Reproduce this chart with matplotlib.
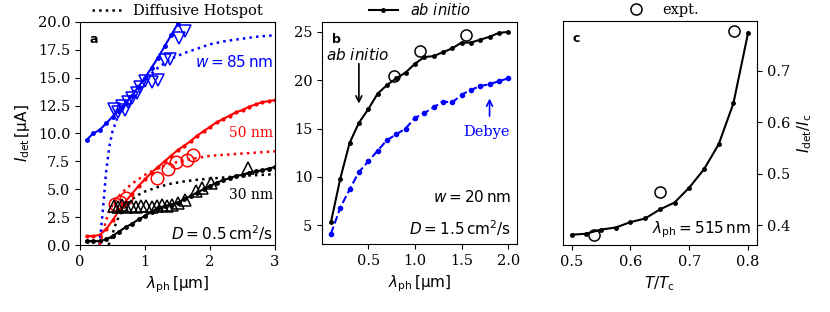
import numpy as np
import matplotlib
matplotlib.use('Agg')
import matplotlib.pyplot as plt

plt.rcParams['font.family'] = 'DejaVu Serif'
plt.rcParams['mathtext.fontset'] = 'dejavusans'
plt.rcParams['font.size'] = 10.5
plt.rcParams['xtick.labelsize'] = 10.5
plt.rcParams['ytick.labelsize'] = 10.5

# ---- panel a: detection current vs wavelength, D = 0.5 cm^2/s ----
lam_a = [0.1, 0.2, 0.3, 0.4, 0.5, 0.6, 0.7, 0.8, 0.9, 1.0, 1.1, 1.2, 1.3, 1.4, 1.5,
         1.6, 1.7, 1.8, 1.9, 2.0, 2.1, 2.2, 2.3, 2.4, 2.5, 2.6, 2.7, 2.8, 2.9, 3.0]
i85 = [9.4, 10.0, 10.3, 10.9, 11.5, 12.1, 12.7, 13.4, 14.2, 15.0, 15.9, 16.8, 17.8, 18.8, 19.8,
       20.8, 21.8, 22.8, 23.8, 24.8, 25.8, 26.8, 27.8, 28.8, 29.8, 30.8, 31.8, 32.8, 33.8, 34.8]
i50 = [0.8, 0.8, 0.9, 1.4, 2.2, 3.1, 3.9, 4.6, 5.3, 5.9, 6.5, 7.0, 7.5, 8.0, 8.5,
       8.9, 9.3, 9.8, 10.2, 10.6, 11.0, 11.3, 11.6, 11.9, 12.1, 12.4, 12.6, 12.8, 12.9, 13.0]
i30 = [0.35, 0.35, 0.35, 0.5, 0.8, 1.2, 1.6, 1.9, 2.3, 2.6, 3.0, 3.3, 3.5, 3.6, 3.8,
       4.1, 4.4, 4.7, 5.0, 5.3, 5.6, 5.8, 6.0, 6.2, 6.3, 6.5, 6.6, 6.7, 6.85, 7.0]

lam_hs85 = [0.3, 0.35, 0.4, 0.45, 0.5, 0.6, 0.7, 0.8, 0.9, 1.0, 1.2, 1.4, 1.6, 1.8, 2.0, 2.25, 2.5, 2.75, 3.0]
hs85 = [0.0, 3.0, 6.5, 8.8, 10.2, 11.8, 12.8, 13.6, 14.3, 14.9, 15.9, 16.7, 17.2, 17.6, 18.0, 18.3, 18.5, 18.7, 18.8]
lam_hs50 = [0.3, 0.35, 0.4, 0.45, 0.5, 0.6, 0.7, 0.8, 0.9, 1.0, 1.2, 1.4, 1.6, 1.8, 2.0, 2.5, 3.0]
hs50 = [0.0, 1.0, 2.2, 3.0, 3.6, 4.4, 5.0, 5.5, 5.9, 6.3, 6.9, 7.3, 7.6, 7.8, 8.0, 8.2, 8.4]
lam_hs30 = [0.44, 0.5, 0.55, 0.6, 0.7, 0.8, 0.9, 1.0, 1.2, 1.4, 1.6, 1.8, 2.0, 2.5, 3.0]
hs30 = [0.0, 1.0, 1.9, 2.6, 3.5, 4.1, 4.5, 4.8, 5.2, 5.5, 5.7, 5.85, 5.95, 6.2, 6.35]

exp85_lam = [0.53, 0.58, 0.64, 0.69, 0.74, 0.8, 0.87, 0.93, 1.0, 1.1, 1.2, 1.31, 1.39, 1.53, 1.62]
exp85_i = [12.2, 11.9, 12.5, 12.1, 12.8, 13.2, 13.6, 14.2, 14.7, 14.6, 14.8, 16.6, 16.7, 18.6, 19.2]
exp50_lam = [0.54, 0.61, 0.70, 1.18, 1.35, 1.47, 1.64, 1.74]
exp50_i = [3.7, 3.9, 4.2, 6.0, 6.8, 7.4, 7.6, 8.1]
exp30_lam = [0.52, 0.58, 0.64, 0.71, 0.78, 0.86, 0.94, 1.02, 1.1, 1.18, 1.26, 1.34, 1.42,
             1.5, 1.62, 1.78, 1.88, 2.02, 2.58]
exp30_i = [3.5, 3.4, 3.6, 3.4, 3.5, 3.4, 3.5, 3.5, 3.4, 3.5, 3.6, 3.5, 3.6,
           3.8, 4.0, 4.8, 5.1, 5.6, 6.9]

# ---- panel b: ab initio vs Debye, w = 20 nm ----
lam_b = [0.1, 0.2, 0.3, 0.4, 0.5, 0.6, 0.7, 0.8, 0.9, 1.0,
         1.1, 1.2, 1.3, 1.4, 1.5, 1.6, 1.7, 1.8, 1.9, 2.0]
abinit = [5.3, 9.8, 13.5, 15.6, 17.0, 18.6, 19.5, 20.2, 20.8, 21.7,
          22.4, 22.5, 22.9, 23.3, 23.9, 23.9, 24.2, 24.5, 24.9, 25.0]
debye = [4.1, 6.8, 8.7, 10.5, 11.6, 12.7, 13.8, 14.4, 15.0, 16.1,
         16.6, 17.2, 17.8, 17.7, 18.5, 19.0, 19.4, 19.6, 19.9, 20.2]
expb_lam = [0.775, 1.055, 1.547]
expb_i = [20.4, 23.0, 24.65]

# ---- panel c: temperature dependence ----
t_c = [0.5, 0.525, 0.55, 0.575, 0.6, 0.625, 0.65, 0.675, 0.7, 0.725, 0.75, 0.775, 0.8]
ratio_c = [0.382, 0.384, 0.392, 0.396, 0.4065, 0.4135, 0.431, 0.4445, 0.4735, 0.509, 0.5575, 0.637, 0.774]
expc_t = [0.538, 0.65, 0.776]
expc_r = [0.382, 0.4645, 0.777]

fig = plt.figure(figsize=(8.3, 3.12), dpi=100)
ax1 = fig.add_axes([0.0964, 0.2147, 0.235, 0.715])
ax2 = fig.add_axes([0.388, 0.218, 0.235, 0.712])
ax3 = fig.add_axes([0.678, 0.215, 0.234, 0.718])

sans = 'DejaVu Sans'

# panel a
ax1.plot(lam_a, i85, '-', color='blue', marker='.', ms=5, lw=1.5)
ax1.plot(lam_a, i50, '-', color='red', marker='.', ms=4, lw=1.5)
ax1.plot(lam_a, i30, '-', color='black', marker='.', ms=5, lw=1.5)
ax1.plot(lam_hs85, hs85, ':', color='blue', lw=1.8)
ax1.plot(lam_hs50, hs50, ':', color='red', lw=1.8)
ax1.plot(lam_hs30, hs30, ':', color='black', lw=1.8, label='Diffusive Hotspot')
ax1.plot(exp85_lam, exp85_i, 'v', mfc='none', mec='blue', ms=9, mew=1.1)
ax1.plot(exp50_lam, exp50_i, 'o', mfc='none', mec='red', ms=9, mew=1.1)
ax1.plot(exp30_lam, exp30_i, '^', mfc='none', mec='black', ms=9, mew=1.1)
ax1.set_xlim(0, 3)
ax1.set_ylim(0, 20)
ax1.set_xticks([0, 1, 2, 3])
ax1.set_yticks(np.arange(0, 20.1, 2.5))
ax1.set_xlabel(r'$\lambda_{\rm ph}\,[\mathrm{\mu m}]$', fontsize=11)
ax1.set_ylabel(r'$I_{\rm det}\,[\mathrm{\mu A}]$', fontsize=11)
ax1.text(2.97, 16.4, r'$w = 85\,\mathrm{nm}$', color='blue', ha='right', va='center', fontsize=11)
ax1.text(2.97, 10.0, '50 nm', color='red', ha='right', va='center', fontsize=10)
ax1.text(2.97, 4.5, '30 nm', color='black', ha='right', va='center', fontsize=10)
ax1.text(2.97, 1.1, r'$D = 0.5\,\mathrm{cm^2/s}$', ha='right', va='center', fontsize=11)
ax1.text(0.05, 0.95, 'a', transform=ax1.transAxes, family=sans, weight='bold', va='top', fontsize=9)
ax1.legend(loc='lower center', bbox_to_anchor=(0.5, 0.99), frameon=False, fontsize=10.5,
           borderaxespad=0, handlelength=2.0)

# panel b
ax2.plot(lam_b, abinit, '-', color='black', marker='.', ms=5, lw=1.5, label=r'$ab\ initio$')
ax2.plot(lam_b, debye, '--', color='blue', marker='.', ms=6, lw=1.5)
ax2.plot(expb_lam, expb_i, 'o', mfc='none', mec='black', ms=8, mew=1.1)
ax2.set_xticks([0.5, 1.0, 1.5, 2.0])
ax2.set_yticks([5, 10, 15, 20, 25])
ax2.set_xlabel(r'$\lambda_{\rm ph}\,[\mathrm{\mu m}]$', fontsize=11)
ax2.annotate('', xy=(0.4, 17.3), xytext=(0.4, 22.0),
             arrowprops=dict(arrowstyle='->', color='black', lw=1.2))
ax2.text(0.39, 22.6, r'$ab\ initio$', ha='center', va='center', fontsize=11)
ax2.annotate('', xy=(1.8, 18.4), xytext=(1.8, 16.0),
             arrowprops=dict(arrowstyle='->', color='blue', lw=1.2))
ax2.text(1.77, 14.6, 'Debye', color='blue', ha='center', va='center', fontsize=10.5)
ax2.text(0.97, 0.21, r'$w = 20\,\mathrm{nm}$', transform=ax2.transAxes, ha='right', va='center', fontsize=11)
ax2.text(0.97, 0.07, r'$D = 1.5\,\mathrm{cm^2/s}$', transform=ax2.transAxes, ha='right', va='center', fontsize=11)
ax2.text(0.05, 0.95, 'b', transform=ax2.transAxes, family=sans, weight='bold', va='top', fontsize=9)
ax2.legend(loc='lower center', bbox_to_anchor=(0.5, 0.99), frameon=False, fontsize=10.5,
           borderaxespad=0, handlelength=2.0)

# panel c
ax3.plot(t_c, ratio_c, '-', color='black', marker='.', ms=5, lw=1.5)
ax3.plot(expc_t, expc_r, 'o', mfc='none', mec='black', ms=8, mew=1.1, label='expt.')
ax3.set_xticks([0.5, 0.6, 0.7, 0.8])
ax3.set_yticks([0.4, 0.5, 0.6, 0.7])
ax3.yaxis.tick_right()
ax3.yaxis.set_label_position('right')
ax3.set_xlabel(r'$T/T_{\rm c}$', fontsize=11)
ax3.set_ylabel(r'$I_{\rm det}/I_{\rm c}$', fontsize=11)
ax3.text(0.97, 0.07, r'$\lambda_{\rm ph} = 515\,\mathrm{nm}$', transform=ax3.transAxes,
         ha='right', va='center', fontsize=11)
ax3.text(0.05, 0.95, 'c', transform=ax3.transAxes, family=sans, weight='bold', va='top', fontsize=9)
ax3.legend(loc='lower center', bbox_to_anchor=(0.5, 0.99), frameon=False, fontsize=10.5,
           borderaxespad=0, handlelength=2.0)

fig.savefig('out.png', dpi=100)
